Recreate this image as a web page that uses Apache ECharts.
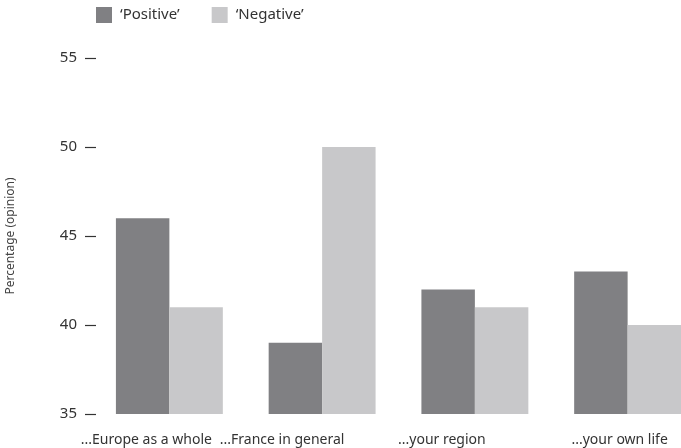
<!DOCTYPE html>
<html>
<head>
<meta charset="utf-8">
<script src="https://cdn.jsdelivr.net/npm/echarts@6/dist/echarts.min.js"></script>
<style>
html,body{margin:0;padding:0;background:#fff;}
#chart{width:681px;height:448px;}
</style>
</head>
<body>
<div id="chart"></div>
<script>
const categories = ['...Europe as a whole', '...France in general', '...your region', '...your own life'];
const positive = [46, 39, 42, 43];
const negative = [41, 50, 41, 40];
const seriesNames = ['\u2018Positive\u2019', '\u2018Negative\u2019'];
const yMin = 35, yMax = 55, yStep = 5;
const yAxisTitle = 'Percentage (opinion)';
const labelShift = [-23, -40, -33, -8];

const font = 'Noto Sans';
const rich = {};
labelShift.forEach((s, i) => {
  rich['s' + i] = {fontFamily: font, fontSize: 14, color: '#333',
    padding: s < 0 ? [0, -2 * s, 0, 0] : [0, 0, 0, 2 * s]};
});
const chart = echarts.init(document.getElementById('chart'), null, {renderer: 'canvas'});
chart.setOption({
  animation: false,
  backgroundColor: '#ffffff',
  legend: {
    left: 96, top: 7, padding: 0,
    icon: 'rect', itemWidth: 16, itemHeight: 16, itemGap: 32,
    textStyle: {fontFamily: font, fontSize: 15, color: '#333', padding: [0,0,0,3]},
    data: seriesNames
  },
  grid: {left: 93, width: 611, top: 58, height: 356, containLabel: false, outerBoundsMode: 'none'},
  xAxis: {
    type: 'category', data: categories,
    axisLine: {show: false}, axisTick: {show: false},
    axisLabel: {fontFamily: font, fontSize: 14, color: '#333', margin: 19, interval: 0, hideOverlap: false,
      formatter: (v, i) => '{s' + i + '|' + v + '}', rich: rich}
  },
  yAxis: {
    type: 'value', min: yMin, max: yMax, interval: yStep, offset: -3,
    name: yAxisTitle, nameLocation: 'middle', nameGap: 79,
    nameTextStyle: {fontFamily: font, fontSize: 12, color: '#444'},
    axisLine: {show: false},
    axisTick: {show: true, length: 11, lineStyle: {color: '#333', width: 1.2}},
    splitLine: {show: false},
    axisLabel: {fontFamily: font, fontSize: 15, color: '#333', margin: 19}
  },
  series: [
    {name: seriesNames[0], type: 'bar', data: positive, barGap: '0%', barCategoryGap: '30%',
     itemStyle: {color: '#808083'}},
    {name: seriesNames[1], type: 'bar', data: negative, barGap: '0%', barCategoryGap: '30%',
     itemStyle: {color: '#c8c8ca'}}
  ]
});
</script>
</body>
</html>
